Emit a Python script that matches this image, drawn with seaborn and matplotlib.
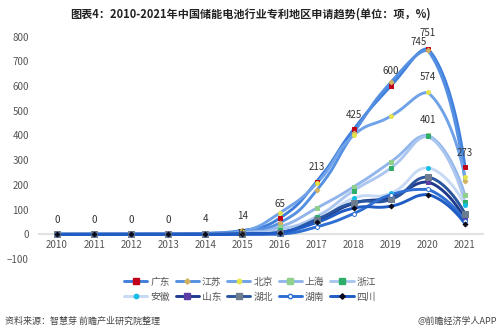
import numpy as np
import pandas as pd
import matplotlib
matplotlib.use("Agg")
import matplotlib.pyplot as plt
from matplotlib.lines import Line2D
import seaborn as sns

# ---- data -------------------------------------------------------------
years = ["2010", "2011", "2012", "2013", "2014", "2015",
         "2016", "2017", "2018", "2019", "2020", "2021"]
regions = ["广东", "江苏", "北京", "上海", "浙江",
           "安徽", "山东", "湖北", "湖南", "四川"]

guangdong = [0, 0, 0, 0, 4, 14, 65, 213, 425, 600, 751, 273]
jiangsu   = [0, 0, 0, 0, 3, 16, 46, 178, 410, 615, 745, 216]
beijing   = [0, 0, 0, 0, 2, 10, 86, 206, 401, 478, 574, 232]
shanghai  = [0, 0, 0, 0, 1, 6, 30, 106, 192, 293, 401, 158]
zhejiang  = [0, 0, 0, 0, 1, 4, 19, 72, 177, 268, 396, 130]
anhui     = [0, 0, 0, 0, 0, 3, 10, 50, 146, 166, 269, 120]
shandong  = [0, 0, 0, 0, 0, 2, 6, 55, 125, 150, 212, 62]
hubei     = [0, 0, 0, 0, 0, 2, 6, 60, 128, 141, 232, 84]
hunan     = [0, 0, 0, 0, 0, 1, 0, 30, 84, 160, 182, 55]
sichuan   = [0, 0, 0, 0, 0, 1, 7, 48, 106, 114, 161, 43]

series_values = [guangdong, jiangsu, beijing, shanghai, zhejiang,
                 anhui, shandong, hubei, hunan, sichuan]

# ---- styles -----------------------------------------------------------
line_colors = ["#3f7fdc", "#5590e2", "#6fa2e8", "#92b6ec", "#abc7f0",
               "#c6d9f5", "#1f3c8c", "#2a559f", "#2f6fd4", "#1f5cc4"]
marker_styles = [
    dict(marker="s", fc="#c00018", ec="#c00018", s=11),
    dict(marker="D", fc="#d2b25e", ec="#d2b25e", s=6),
    dict(marker="o", fc="#e4e44a", ec="#e4e44a", s=8),
    dict(marker="s", fc="#8fd08a", ec="#8fd08a", s=12),
    dict(marker="s", fc="#2fae6a", ec="#2fae6a", s=12),
    dict(marker="o", fc="#12bde6", ec="#12bde6", s=8),
    dict(marker="s", fc="#5a3ea6", ec="#5a3ea6", s=11),
    dict(marker="s", fc="#6d7c8e", ec="#6d7c8e", s=13),
    dict(marker="o", fc="#ffffff", ec="#2f6fd4", s=8),
    dict(marker="D", fc="#0a0a1a", ec="#0a0a1a", s=6),
]

PX_X, PX_Y = 37.1, 0.2466  # screen scale used for the spline shape


def smooth_curve(vals, smooth=0.5, n=30):
    """Bezier smoothing with control points kept inside the series box."""
    pts = np.column_stack([np.arange(len(vals)) * PX_X,
                           np.asarray(vals, float) * PX_Y])
    lo, hi = pts.min(0), pts.max(0)
    cin, cout = [], []
    last = len(pts) - 1
    for i, p in enumerate(pts):
        if i == 0 or i == last:
            cin.append(p.copy()); cout.append(p.copy()); continue
        prev, nxt = pts[i - 1], pts[i + 1]
        v = (nxt - prev) * smooth
        d0 = np.linalg.norm(p - prev); d1 = np.linalg.norm(nxt - p)
        s = d0 + d1
        if s > 0:
            d0, d1 = d0 / s, d1 / s
        cin.append(np.clip(p - v * d0, lo, hi))
        cout.append(np.clip(p + v * d1, lo, hi))
    t = np.linspace(0, 1, n)[:, None]
    segs = []
    for i in range(last):
        p0, p1, p2, p3 = pts[i], cout[i], cin[i + 1], pts[i + 1]
        b = ((1 - t) ** 3) * p0 + 3 * ((1 - t) ** 2) * t * p1 \
            + 3 * (1 - t) * t ** 2 * p2 + t ** 3 * p3
        segs.append(b if i == 0 else b[1:])
    c = np.vstack(segs)
    return c[:, 0] / PX_X, c[:, 1] / PX_Y


# ---- figure -----------------------------------------------------------
sns.set_theme(style="white")
plt.rcParams["font.family"] = ["Noto Sans CJK SC", "DejaVu Sans"]

fig = plt.figure(figsize=(5.0, 3.36), dpi=100)
ax = fig.add_axes([0.077, 0.229, 0.890, 0.662])

LW = 2.1
xidx = np.arange(len(years))
for k, (name, vals) in enumerate(zip(regions, series_values)):
    cx, cy = smooth_curve(vals)
    sns.lineplot(x=cx, y=cy, ax=ax, color=line_colors[k], lw=LW,
                 sort=False, estimator=None, zorder=2 + k * 0.1)
for k, (name, vals) in enumerate(zip(regions, series_values)):
    st = marker_styles[k]
    sns.scatterplot(x=xidx, y=vals, ax=ax, marker=st["marker"],
                    color=st["fc"], edgecolor=st["ec"], s=st["s"],
                    linewidth=0.7, zorder=4 + k * 0.1, legend=False)

ax.set_xlim(-0.5, len(years) - 0.5)
ax.set_ylim(-100, 800)
ax.set_xticks(xidx)
ax.set_xticklabels(years)
ax.set_yticks(np.arange(-100, 801, 100))
ax.tick_params(axis="both", length=0, labelsize=7, colors="#555555")
ax.tick_params(axis="x", pad=4)
ax.tick_params(axis="y", pad=7)
for side in ("top", "right", "left"):
    ax.spines[side].set_visible(False)
ax.spines["bottom"].set_position(("data", 0))
ax.spines["bottom"].set_color("#e2e2e2")
ax.spines["bottom"].set_linewidth(1.5)
ax.spines["bottom"].set_zorder(1)
ax.set_xlabel("")
ax.set_ylabel("")
ax.grid(False)

# value labels
lab_kw = dict(ha="center", va="center", fontsize=7, color="#333333",
              clip_on=False, zorder=6)
for i in range(10):
    ax.annotate(str(guangdong[i]), (i, guangdong[i]), xytext=(0, 10.5),
                textcoords="offset points", **lab_kw)
ax.annotate(str(guangdong[10]), (10, guangdong[10]), xytext=(0, 11),
            textcoords="offset points", **lab_kw)
ax.annotate(str(guangdong[11]), (11, guangdong[11]), xytext=(0, 10),
            textcoords="offset points", **lab_kw)
ax.annotate(str(jiangsu[10]), (10, jiangsu[10]), xytext=(-7, 6),
            textcoords="offset points", **lab_kw)
ax.annotate(str(jiangsu[5]), (5, jiangsu[5]), xytext=(-1, -2.6),
            textcoords="offset points", ha="center", va="center",
            fontsize=6.3, color="#333333", clip_on=False, zorder=6)
ax.annotate(str(beijing[10]), (10, beijing[10]), xytext=(0, 11),
            textcoords="offset points", **lab_kw)
ax.annotate(str(shanghai[10]), (10, shanghai[10]), xytext=(0, 11),
            textcoords="offset points", **lab_kw)

# legend, filled row by row
handles = []
for k, name in enumerate(regions):
    st = marker_styles[k]
    handles.append(Line2D([], [], color=line_colors[k], lw=LW,
                          marker=st["marker"], markerfacecolor=st["fc"],
                          markeredgecolor=st["ec"],
                          markersize=np.sqrt(st["s"]) + 0.3, label=name))
ncol = 5
order = [r * ncol + c for c in range(ncol) for r in range(2)]
fig.legend(handles=[handles[i] for i in order], loc="center",
           bbox_to_anchor=(0.5, 0.139), ncol=ncol, frameon=False,
           fontsize=7, handlelength=2.4, handletextpad=0.3,
           columnspacing=0.6, labelspacing=0.5, labelcolor="#555555")

fig.text(0.5, 0.958, "图表4：2010-2021年中国储能电池行业专利地区申请趋势(单位：项，%)",
         ha="center", va="center", fontsize=8, fontweight="bold",
         color="#222222")
fig.text(0.01, 0.043, "资料来源：智慧芽 前瞻产业研究院整理", ha="left",
         va="center", fontsize=6.5, color="#444444")
fig.text(0.995, 0.043, "@前瞻经济学人APP", ha="right", va="center",
         fontsize=6.5, color="#444444")

fig.savefig("out.png", dpi=100)
